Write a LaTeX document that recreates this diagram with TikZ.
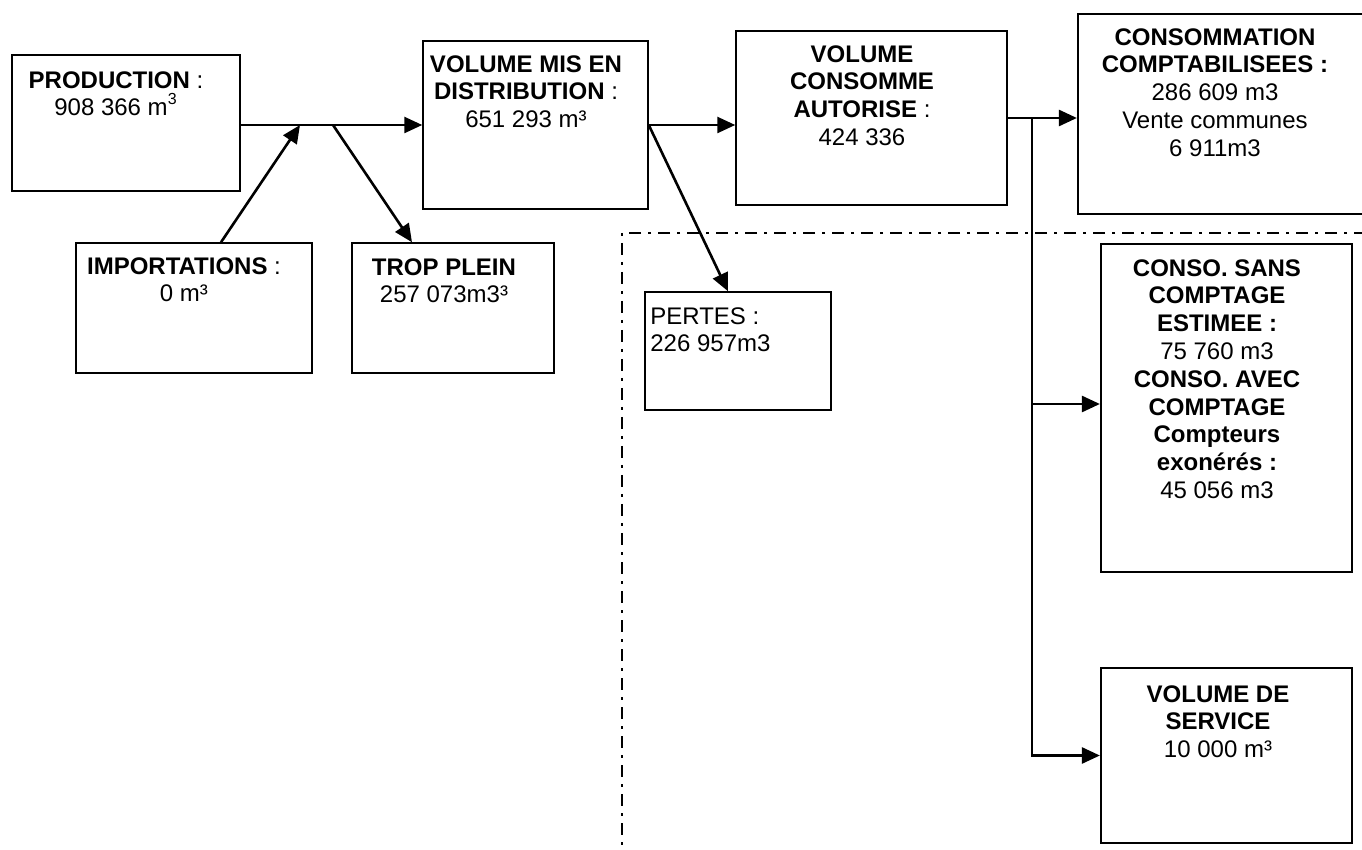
\documentclass[tikz,border=0pt]{standalone}
\usepackage{fontspec}
\setmainfont{Liberation Sans}
\usetikzlibrary{arrows.meta,fit}

\begin{document}
\begin{tikzpicture}[x=0.5pt,y=-0.5pt,
        box/.style={draw, line width=0.75pt, inner sep=0pt},
        bigbox/.style={box, line width=1.1pt},
        txt/.style={inner sep=0pt, align=center, anchor=north, font=\fontsize{12}{13.9}\selectfont},
        flow/.style={line width=1.3pt, -{Triangle[length=9pt,width=8pt]}},
        limit/.style={line width=1.2pt, dash pattern=on 6pt off 3.5pt on 1.5pt off 3.5pt}]
        \useasboundingbox (0,0) rectangle (1362,850);

        % zone des pertes / consommations non comptees
        \draw[limit] (1366,233) -- (622,233) -- (622,854);

        % boites
        \node[box, fit={(12,55) (240,191)}] (prod) {};
        \node[box, fit={(76,243) (312,373)}] (imp) {};
        \node[box, fit={(352,243) (554,373)}] (trop) {};
        \node[box, fit={(423,41) (648,209)}] (dist) {};
        \node[box, fit={(645,292) (831,410)}] (pertes) {};
        \node[box, fit={(736,31) (1007,205)}] (auto) {};
        \node[bigbox, fit={(1078,14) (1380,214)}] (compta) {};
        \node[bigbox, fit={(1101,244) (1352,572)}] (sans) {};
        \node[bigbox, fit={(1101,668) (1352,843)}] (serv) {};

        % textes
        \node[txt] (prodtxt) at (116,71) {\textbf{PRODUCTION} :\\908 366 m\raisebox{1.5pt}{\textsuperscript{3}}};
        \node[txt] (imptxt) at (184,257) {\textbf{IMPORTATIONS} :\\0 m³};
        \node[txt] (troptxt) at (444,258) {\textbf{TROP PLEIN}\\257 073m3³};
        \node[txt] (disttxt) at (526,55) {\textbf{VOLUME MIS EN}\\\textbf{DISTRIBUTION} :\\651 293 m³};
        \node[txt, anchor=north west, align=left] (pertestxt) at (650,307) {PERTES :\\226 957m3};
        \node[txt] (autotxt) at (862,45) {\textbf{VOLUME}\\\textbf{CONSOMME}\\\textbf{AUTORISE} :\\424 336};
        \node[txt] (comptatxt) at (1215,28) {\textbf{CONSOMMATION}\\\textbf{COMPTABILISEES :}\\286 609 m3\\Vente communes\\6 911m3};
        \node[txt] (sanstxt) at (1217,259) {\textbf{CONSO. SANS}\\\textbf{COMPTAGE}\\\textbf{ESTIMEE :}\\75 760 m3\\\textbf{CONSO. AVEC}\\\textbf{COMPTAGE}\\\textbf{Compteurs}\\\textbf{exonérés :}\\45 056 m3};
        \node[txt] (servtxt) at (1218,685) {\textbf{VOLUME DE}\\\textbf{SERVICE}\\10 000 m³};

        % fleches
        \coordinate (jin) at (300,125);
        \coordinate (jout) at (333,125);
        \coordinate (split) at (1032,118);
        \draw[flow] (prod.east |- dist.west) -- (dist.west);
        \draw[flow] ([xshift=13.5pt]imp.north) -- (jin);
        \draw[flow] (jout) -- ([xshift=-20.5pt]trop.north);
        \draw[flow] (dist.east) -- (dist.east -| auto.west);
        \draw[flow] (dist.east) -- ([xshift=-5pt]pertes.north);
        \draw[flow] (auto.east) -- (auto.east -| compta.west);
        \draw[flow] ([yshift=2pt]sans.west -| split) -- ([yshift=2pt]sans.west);
        \draw[flow] (split) |- (serv.west);
    \end{tikzpicture}
\end{document}
